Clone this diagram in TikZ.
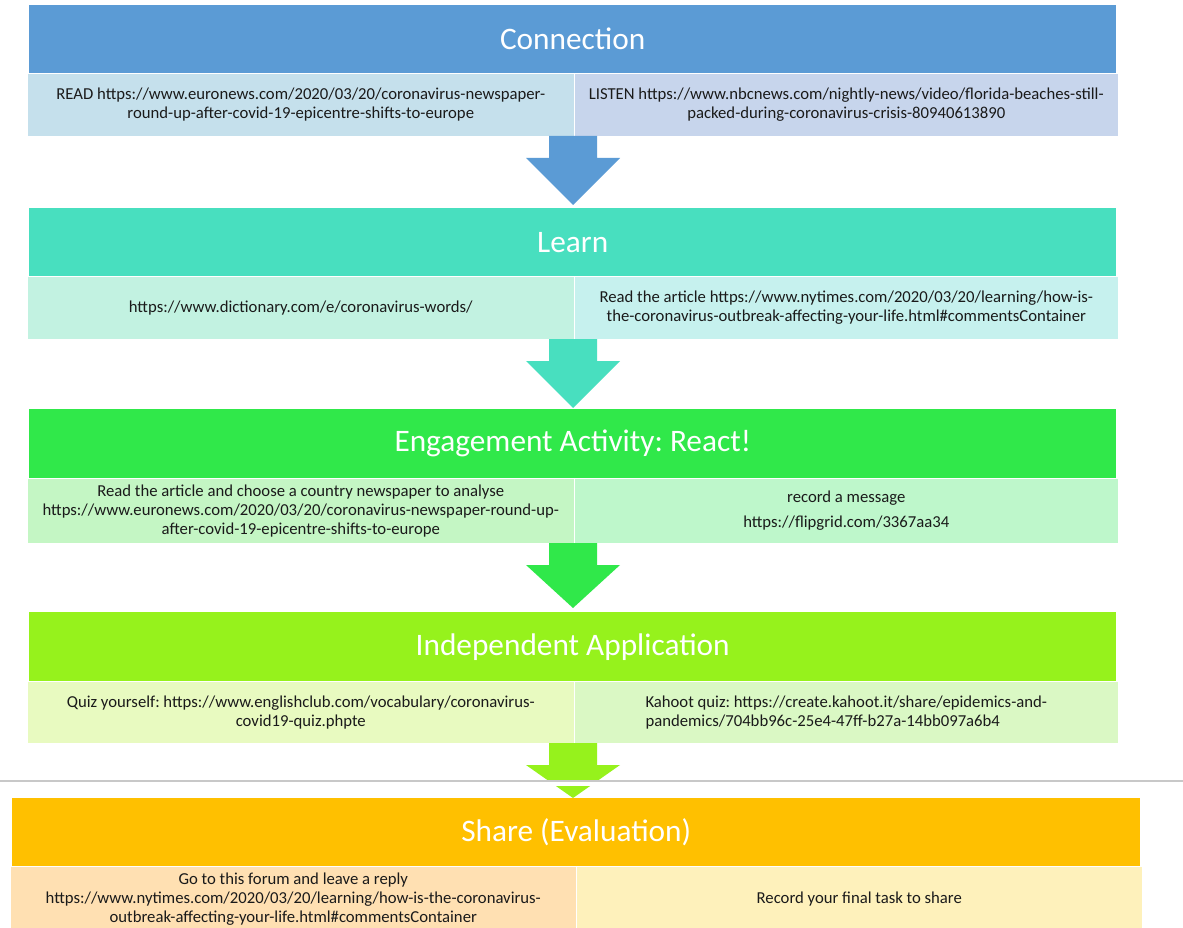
\documentclass[tikz,border=0pt]{standalone}
\usepackage{fontspec}
\setmainfont{Carlito}
\frenchspacing
\usetikzlibrary{calc}
\definecolor{cA}{HTML}{5B9BD5}
\definecolor{cAl}{HTML}{C5E0EC}
\definecolor{cAr}{HTML}{C7D5EC}
\definecolor{cB}{HTML}{48DFBF}
\definecolor{cBl}{HTML}{C2F2E1}
\definecolor{cBr}{HTML}{C6F1EE}
\definecolor{cC}{HTML}{30E84A}
\definecolor{cCl}{HTML}{C4F6C4}
\definecolor{cCr}{HTML}{BEF7CB}
\definecolor{cD}{HTML}{96F21C}
\definecolor{cDl}{HTML}{E8FAC0}
\definecolor{cDr}{HTML}{DAF8C4}
\definecolor{cE}{HTML}{FFC000}
\definecolor{cEl}{HTML}{FFE0B2}
\definecolor{cEr}{HTML}{FEF1BB}
\definecolor{txt}{HTML}{1A1A1A}
\definecolor{rule}{HTML}{C8C8C8}
\tikzset{
  hdr/.style={rectangle, inner sep=0pt, text=white, anchor=north west,
    font=\fontsize{31.3}{36}\selectfont},
  subbox/.style={rectangle, inner sep=0pt, text=txt, align=center, anchor=north west,
    draw=white, line width=0.6pt, font=\fontsize{16.7}{19}\selectfont},
}
\newcommand\blockarrow[3]{%
  \fill[#1] let \p1=(#2), \p2=(#3) in
    (\x1-24pt,\y1) -- (\x1+24pt,\y1) -- (\x1+24pt,\y1-22pt) -- (\x1+47pt,\y1-22pt)
    -- (\x2,\y2) -- (\x1-47pt,\y1-22pt) -- (\x1-24pt,\y1-22pt) -- cycle;}
\begin{document}
\begin{tikzpicture}[x=1pt,y=-1pt]
\clip (0,0) rectangle (1183,928);
\fill[white] (0,0) rectangle (1183,928);

% Connection
\node[hdr, fill=cA, minimum width=1087pt, minimum height=68pt] (h1) at (29,5) {Connection};
\node[subbox, fill=cAl, minimum width=547pt, minimum height=63pt] (a1) at (27,73)
  {READ https://www.euronews.com/2020/03/20/coronavirus-newspaper-\\round-up-after-covid-19-epicentre-shifts-to-europe};
\node[subbox, fill=cAr, minimum width=544pt, minimum height=63pt] (a2) at (574,73)
  {LISTEN https://www.nbcnews.com/nightly-news/video/florida-beaches-still-\\packed-during-coronavirus-crisis-80940613890};

% Learn
\node[hdr, fill=cB, minimum width=1087pt, minimum height=68pt] (h2) at (29,208) {Learn};
\node[subbox, fill=cBl, minimum width=547pt, minimum height=63pt] (b1) at (27,276)
  {https://www.dictionary.com/e/coronavirus-words/};
\node[subbox, fill=cBr, minimum width=544pt, minimum height=63pt] (b2) at (574,276)
  {Read the article https://www.nytimes.com/2020/03/20/learning/how-is-\\the-coronavirus-outbreak-affecting-your-life.html\#commentsContainer};

% Engagement
\node[hdr, fill=cC, minimum width=1087pt, minimum height=69pt] (h3) at (29,409) {Engagement Activity: React!};
\node[subbox, fill=cCl, minimum width=547pt, minimum height=65pt] (c1) at (27,478)
  {Read the article and choose a country newspaper to analyse\\https://www.euronews.com/2020/03/20/coronavirus-newspaper-round-up-\\after-covid-19-epicentre-shifts-to-europe};
\node[subbox, fill=cCr, minimum width=544pt, minimum height=65pt] (c2) at (574,478)
  {record a message\\[6pt]https://flipgrid.com/3367aa34};

% Independent
\node[hdr, fill=cD, minimum width=1087pt, minimum height=69pt] (h4) at (29,612) {Independent Application};
\node[subbox, fill=cDl, minimum width=547pt, minimum height=62pt] (d1) at (27,681)
  {Quiz yourself: https://www.englishclub.com/vocabulary/coronavirus-\\covid19-quiz.phpte};
\node[subbox, fill=cDr, minimum width=544pt, minimum height=62pt, align=left] (d2) at (574,681)
  {Kahoot quiz: https://create.kahoot.it/share/epidemics-and-\\pandemics/704bb96c-25e4-47ff-b27a-14bb097a6b4};

% Share
\node[hdr, fill=cE, minimum width=1128pt, minimum height=68pt] (h5) at (12,798) {Share (Evaluation)};
\node[subbox, fill=cEl, minimum width=566pt, minimum height=66pt] (e1) at (10,866)
  {Go to this forum and leave a reply\\https://www.nytimes.com/2020/03/20/learning/how-is-the-coronavirus-\\outbreak-affecting-your-life.html\#commentsContainer};
\node[subbox, fill=cEr, minimum width=566pt, minimum height=66pt] (e2) at (576,866)
  {Record your final task to share};

% arrows
\coordinate (t1) at (573,136); \coordinate (p1) at (573,205);
\coordinate (t2) at (573,339); \coordinate (p2) at (573,408);
\coordinate (t3) at (573,543); \coordinate (p3) at (573,608);
\coordinate (t4) at (573,743); \coordinate (p4) at (573,798);
\blockarrow{cA}{t1}{p1}
\blockarrow{cB}{t2}{p2}
\blockarrow{cC}{t3}{p3}
\blockarrow{cD}{t4}{p4}

% page break rule
\coordinate (r1) at (0,781); \coordinate (r2) at (1183,781);
\fill[white] (500,781) rectangle (650,785.5);
\draw[rule, line width=1.2pt] (r1) -- (r2);
\end{tikzpicture}
\end{document}
